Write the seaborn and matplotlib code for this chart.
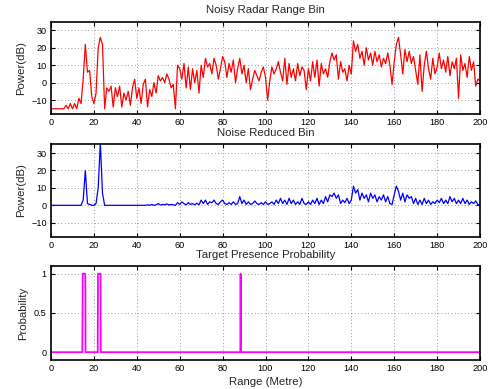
import numpy as np
import pandas as pd
import matplotlib
matplotlib.use("Agg")
import matplotlib.pyplot as plt
import seaborn as sns

# ---------------- data ----------------
range_m = list(range(0, 201))

noisy_db = [
    -15, -15, -15, -15, -15, -15, -15, -13, -15, -12,   # 0-9
    -15, -12, -15, -9, -12, 2, 22, 6, 7, -8,            # 10-19
    -12, -6, 20, 26, 22, -15, -3, -5, -2, -14,          # 20-29
    -3, -8, -2, -14, -6, -10, -5, -13, -3, 2,           # 30-39
    -9, -3, -12, -1, 2, -14, -4, -8, 0, -6,             # 40-49
    4, 1, 3, 0, 5, 2, -3, -1, -15, 10,                  # 50-59
    8, 2, 11, -3, 9, -4, 8, 0, 7, -6,                   # 60-69
    10, 3, 14, 9, 11, 5, 14, 10, 2, 8,                  # 70-79
    15, 12, 3, 11, 6, 13, 0, 8, 14, 5,                  # 80-89
    10, 0, 8, -4, 2, 7, 4, 1, 6, 9,                     # 90-99
    3, -10, 1, 9, 5, 8, 12, 6, 1, 14,                   # 100-109
    -1, 11, 3, 8, 1, 11, 4, 9, 7, -4,                   # 110-119
    8, 1, 12, 3, 13, -2, 11, 5, 8, 3,                   # 120-129
    12, 17, 13, 16, 2, 12, 6, 8, 1, 10,                 # 130-139
    5, 24, 18, 22, 14, 18, 10, 20, 13, 17,              # 140-149
    10, 18, 12, 16, 9, 14, 11, 17, 10, -1,              # 150-159
    12, 22, 26, 16, 5, 19, 12, 18, 11, 15,              # 160-169
    7, -1, 16, -5, 10, 18, 8, 2, 14, 5,                 # 170-179
    9, 17, 8, 13, 6, 15, 4, 12, 8, 14,                  # 180-189
    -9, 16, 7, 11, 3, 15, 7, 12, -2, 2,                 # 190-199
    1,                                                  # 200
]

reduced_db = [
    0, 0, 0, 0, 0, 0, 0, 0, 0, 0,                       # 0-9
    0, 0, 0, 0, 0, 3, 20, 1, 0.5, 0,                    # 10-19
    0, 1, 10, 36, 7, 0, 0, 0, 0, 0,                     # 20-29
    0, 0, 0, 0, 0, 0, 0, 0, 0, 0,                       # 30-39
    0, 0, 0, 0, 0, 0.3, 0, 0.5, 0, 0.3,                 # 40-49
    1, 0.2, 0.5, 0.3, 0.8, 0.2, 0.5, 0.3, 0, 1.5,       # 50-59
    0.5, 2, 1, 0.3, 1.5, 0.5, 1, 0.3, 1.2, 0.3,         # 60-69
    3, 1, 3, 0.5, 2, 1.5, 3, 1, 0.5, 2,                 # 70-79
    3, 1, 0.5, 1.5, 0.5, 2, 0.5, 1, 5, 1,               # 80-89
    3, 0.5, 2, 0.5, 1, 2.5, 1, 0.5, 1.5, 0.5,           # 90-99
    2, 0.5, 1, 2, 0.5, 3, 1, 4, 1, 3,                   # 100-109
    0.5, 4, 1, 3, 0.5, 2, 0.5, 4, 1, 0.5,               # 110-119
    2, 0.5, 3, 1, 4, 0.5, 3, 1, 5, 2,                   # 120-129
    6, 5, 7, 4, 6, 1, 3, 1.5, 4, 1,                     # 130-139
    3, 11, 7, 9, 3, 7, 4, 6, 2, 7,                      # 140-149
    4, 6, 2, 5, 3, 6, 2, 5, 1, 0.5,                     # 150-159
    6, 11, 8, 3, 7, 2, 6, 4, 5, 1,                      # 160-169
    4, 0.5, 3, 0.5, 4, 1, 3, 0.5, 2, 1,                 # 170-179
    3, 1.5, 4, 1, 3, 1, 5, 2, 4, 1,                     # 180-189
    3, 1, 4, 1, 3, 0.5, 2, 1, 2.5, 0.5,                 # 190-199
    0,                                                  # 200
]

prob_range = [0, 14.6, 14.8, 16.0, 16.1, 21.8, 21.9, 23.1, 23.2,
              88.3, 88.4, 88.5, 200]
prob_value = [0, 0, 1, 1, 0, 0, 1, 1, 0,
              0, 1, 0, 0]

titles = ["Noisy Radar Range Bin", "Noise Reduced Bin", "Target Presence Probability"]
x_ticks = [0, 20, 40, 60, 80, 100, 120, 140, 160, 180, 200]
db_ticks = [-10, 0, 10, 20, 30]
prob_ticks = [0, 0.5, 1]
prob_tick_labels = ["0", "0.5", "1"]

# ---------------- style ----------------
sns.set_theme(style="ticks")
plt.rcParams["font.family"] = ["Liberation Sans", "DejaVu Sans"]
plt.rcParams["axes.unicode_minus"] = True

fig = plt.figure(figsize=(4.91, 3.89), dpi=100)
W, H = 491, 389
def axbox(left, top, right, bottom):
    return [left / W, 1 - bottom / H, (right - left) / W, (bottom - top) / H]

ax1 = fig.add_axes(axbox(51, 21.7, 480, 114))
ax2 = fig.add_axes(axbox(51, 144.3, 480, 236.7))
ax3 = fig.add_axes(axbox(51, 266, 480, 360))

df1 = pd.DataFrame({"range": range_m, "power": noisy_db})
df2 = pd.DataFrame({"range": range_m, "power": reduced_db})
df3 = pd.DataFrame({"range": prob_range, "prob": prob_value})

sns.lineplot(data=df1, x="range", y="power", ax=ax1, color=(1, 0, 0),
             linewidth=0.9, estimator=None, sort=False)
sns.lineplot(data=df2, x="range", y="power", ax=ax2, color=(0, 0, 1),
             linewidth=0.9, estimator=None, sort=False)
sns.lineplot(data=df3, x="range", y="prob", ax=ax3, color=(1, 0, 1),
             linewidth=1.3, estimator=None, sort=False)

for ax, title in zip([ax1, ax2, ax3], titles):
    ax.set_xlim(0, 200)
    ax.set_xticks(x_ticks)
    ax.set_title(title, fontsize=8.2, pad=6)
    ax.grid(True, color="#777777", linestyle=(0, (1, 3)), linewidth=0.6)
    ax.tick_params(direction="in", length=3, width=0.8, labelsize=6.6,
                   top=True, right=True, pad=3, colors="black")
    for sp in ax.spines.values():
        sp.set_visible(True)
        sp.set_linewidth(1.2)
        sp.set_color("black")
    ax.set_facecolor("white")

for ax in (ax1, ax2):
    ax.set_ylim(-18, 35)
    ax.set_yticks(db_ticks)
    ax.set_ylabel("Power(dB)", fontsize=8.2, labelpad=4)
    ax.set_xlabel("")

ax3.set_ylim(-0.1, 1.1)
ax3.set_yticks(prob_ticks)
ax3.set_yticklabels(prob_tick_labels)
ax3.set_ylabel("Probability", fontsize=8.2, labelpad=4)
ax3.set_xlabel("Range (Metre)", fontsize=8.2, labelpad=3)

fig.savefig("out.png", dpi=100, facecolor="white")
